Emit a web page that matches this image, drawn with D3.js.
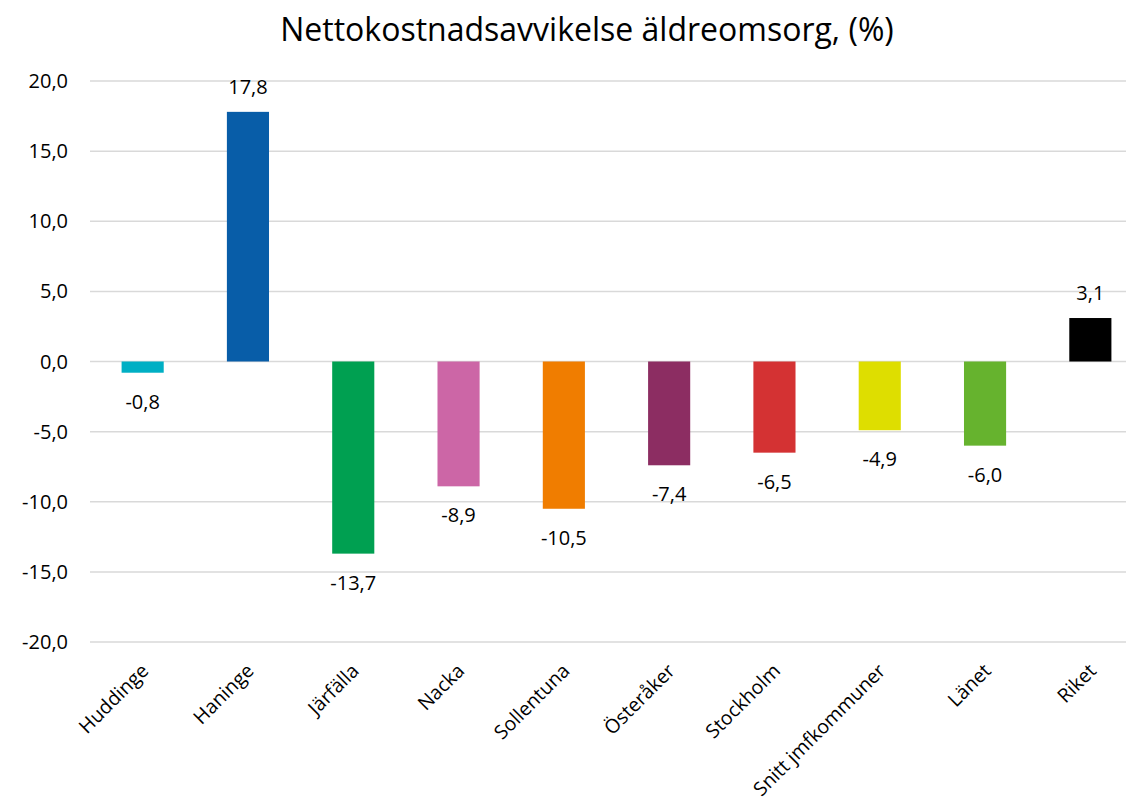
<!DOCTYPE html>
<html>
<head>
<meta charset="utf-8">
<script src="https://cdn.jsdelivr.net/npm/d3@7"></script>
<style>
  body { margin: 0; background: #fff; }
  text { font-family: "Open Sans", "Noto Sans", sans-serif; fill: #000; }
</style>
</head>
<body>
<script>
var w = 1126;
var h = 807;

// data
var categories = ["Huddinge", "Haninge", "Järfälla", "Nacka", "Sollentuna", "Österåker", "Stockholm", "Snitt jmfkommuner", "Länet", "Riket"];
var values = [-0.8, 17.8, -13.7, -8.9, -10.5, -7.4, -6.5, -4.9, -6.0, 3.1];
var colors = ["#00AFC4", "#085DA8", "#00A051", "#CC66A6", "#F07D00", "#8C2D62", "#D43233", "#DEDE00", "#66B32E", "#000000"];
var yTicks = [20, 15, 10, 5, 0, -5, -10, -15, -20];

// swedish style: comma decimal, plain hyphen minus
var fmt = function (v) { return d3.format(".1f")(v).replace(".", ",").replace("\u2212", "-"); };

var svg = d3.select("body").append("svg").attr("width", w).attr("height", h);

var x = d3.scaleBand().domain(categories).range([90, 1143]).paddingInner(0.6).paddingOuter(0.3);
var y = d3.scaleLinear().domain([-20, 20]).range([642, 81]);

// title
svg.append("text")
  .attr("x", 587)
  .attr("y", 41)
  .attr("text-anchor", "middle")
  .style("font-size", "32px")
  .text("Nettokostnadsavvikelse äldreomsorg, (%)");

// gridlines
svg.append("g")
  .selectAll("line")
  .data(yTicks)
  .enter()
  .append("line")
  .attr("x1", 90)
  .attr("x2", 1143)
  .attr("y1", function (d) { return y(d); })
  .attr("y2", function (d) { return y(d); })
  .style("stroke", "#d9d9d9")
  .style("stroke-width", 1.5);

// y tick labels
svg.append("g")
  .selectAll("text")
  .data(yTicks)
  .enter()
  .append("text")
  .attr("x", 68)
  .attr("y", function (d) { return y(d) + 7; })
  .attr("text-anchor", "end")
  .style("font-size", "20px")
  .text(fmt);

// bars
svg.append("g")
  .selectAll("rect")
  .data(values)
  .enter()
  .append("rect")
  .attr("x", function (d, i) { return x(categories[i]); })
  .attr("width", x.bandwidth())
  .attr("y", function (d) { return y(Math.max(0, d)); })
  .attr("height", function (d) { return Math.abs(y(d) - y(0)); })
  .style("fill", function (d, i) { return colors[i]; });

// value labels
svg.append("g")
  .selectAll("text")
  .data(values)
  .enter()
  .append("text")
  .attr("x", function (d, i) { return x(categories[i]) + x.bandwidth() / 2; })
  .attr("y", function (d) { return d >= 0 ? y(d) - 18 : y(d) + 36; })
  .attr("text-anchor", "middle")
  .style("font-size", "20px")
  .text(fmt);

// category labels
svg.append("g")
  .selectAll("text")
  .data(categories)
  .enter()
  .append("text")
  .attr("transform", function (d) {
    var cx = x(d) + x.bandwidth() / 2;
    return "translate(" + (cx + 7) + ",672) rotate(-45)";
  })
  .attr("text-anchor", "end")
  .style("font-size", "19.5px")
  .text(function (d) { return d; });
</script>
</body>
</html>
